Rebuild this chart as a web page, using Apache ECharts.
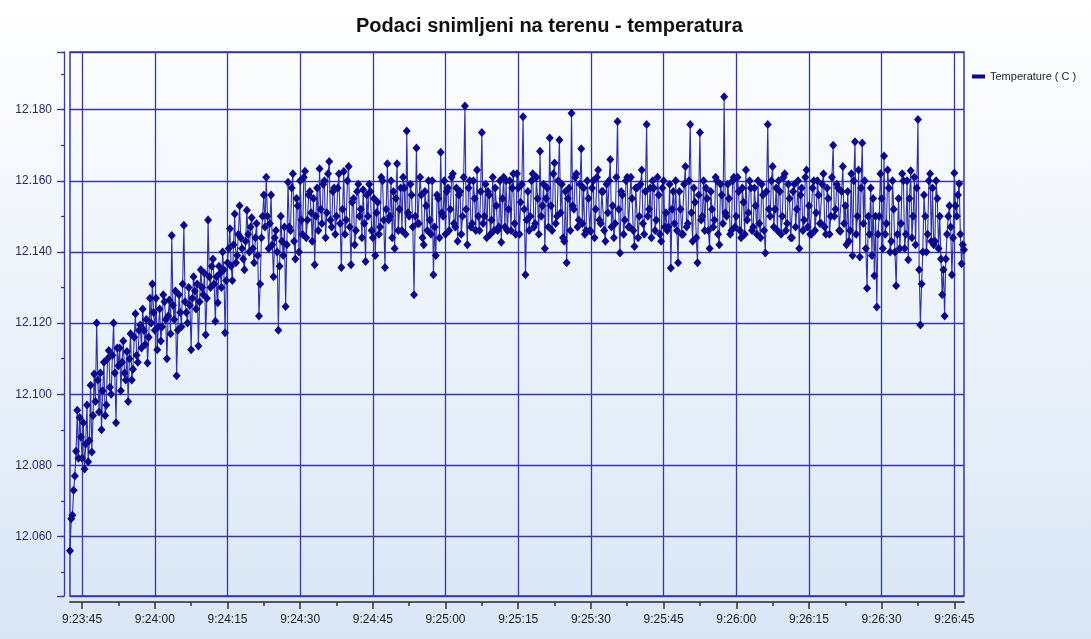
<!DOCTYPE html>
<html>
<head>
<meta charset="utf-8">
<title>Podaci snimljeni na terenu - temperatura</title>
<script src="https://cdn.jsdelivr.net/npm/echarts@6/dist/echarts.min.js"></script>
<style>
  html, body { margin: 0; padding: 0; }
  body {
    width: 1091px; height: 639px;
    background: linear-gradient(to bottom, #ffffff 0%, #f2f6fc 35%, #d9e6f6 100%);
  }
  #chart { width: 1091px; height: 639px; }
</style>
</head>
<body>
<div id="chart"></div>
<script>
// sampling of the logger: first sample and step (seconds)
const startTime = '9:23:42.5';
const stepSeconds = 0.25;

const timeTickLabels = ['9:23:45', '9:24:00', '9:24:15', '9:24:30', '9:24:45', '9:25:00', '9:25:15',
  '9:25:30', '9:25:45', '9:26:00', '9:26:15', '9:26:30', '9:26:45'];
const yTickLabels = ['12.060', '12.080', '12.100', '12.120', '12.140', '12.160', '12.180'];

// temperature ( C ), one value per sample (20 samples = 5 s per row)
const temperature = [
  12.056, 12.065, 12.066, 12.073, 12.077, 12.084, 12.0955, 12.082, 12.0935, 12.088, 12.082, 12.092, 12.079, 12.086, 12.097, 12.081, 12.087, 12.1025, 12.0838, 12.094,
  12.1057, 12.098, 12.120, 12.104, 12.095, 12.106, 12.090, 12.101, 12.109, 12.094, 12.097, 12.110, 12.1123, 12.102, 12.100, 12.111, 12.120, 12.106, 12.092, 12.113,
  12.108, 12.113, 12.101, 12.109, 12.115, 12.106, 12.104, 12.112, 12.098, 12.110, 12.117, 12.104, 12.107, 12.116, 12.1226, 12.111, 12.109, 12.118, 12.1195, 12.113,
  12.124, 12.118, 12.114, 12.121, 12.1088, 12.116, 12.127, 12.120, 12.131, 12.123, 12.118, 12.127, 12.1125, 12.119, 12.124, 12.115, 12.119, 12.128, 12.126, 12.121,
  12.110, 12.122, 12.1265, 12.117, 12.1446, 12.125, 12.121, 12.129, 12.1052, 12.118, 12.128, 12.123, 12.119, 12.131, 12.1475, 12.126, 12.123, 12.120, 12.130, 12.125,
  12.1125, 12.127, 12.133, 12.129, 12.124, 12.131, 12.1136, 12.126, 12.135, 12.130, 12.128, 12.134, 12.1167, 12.127, 12.149, 12.133, 12.130, 12.136, 12.138, 12.131,
  12.1205, 12.133, 12.1257, 12.136, 12.134, 12.130, 12.140, 12.135, 12.1173, 12.132, 12.137, 12.141, 12.1465, 12.136, 12.132, 12.142, 12.1507, 12.137, 12.139, 12.145,
  12.153, 12.144, 12.141, 12.138, 12.135, 12.143, 12.1517, 12.145, 12.140, 12.147, 12.1496, 12.141, 12.137, 12.144, 12.148, 12.139, 12.122, 12.131, 12.144, 12.150,
  12.156, 12.147, 12.161, 12.150, 12.141, 12.148, 12.156, 12.142, 12.133, 12.144, 12.146, 12.140, 12.118, 12.136, 12.150, 12.143, 12.139, 12.147, 12.1247, 12.142,
  12.1596, 12.147, 12.146, 12.158, 12.162, 12.143, 12.138, 12.155, 12.153, 12.140, 12.160, 12.149, 12.145, 12.161, 12.1627, 12.144, 12.149, 12.156, 12.157, 12.151,
  12.143, 12.155, 12.1364, 12.150, 12.158, 12.146, 12.1634, 12.152, 12.148, 12.159, 12.160, 12.144, 12.151, 12.162, 12.1654, 12.149, 12.147, 12.157, 12.158, 12.145,
  12.150, 12.158, 12.162, 12.148, 12.1356, 12.152, 12.1626, 12.145, 12.149, 12.160, 12.164, 12.147, 12.1364, 12.154, 12.155, 12.142, 12.146, 12.157, 12.159, 12.150,
  12.152, 12.144, 12.1575, 12.148, 12.1373, 12.156, 12.150, 12.159, 12.157, 12.146, 12.144, 12.155, 12.139, 12.151, 12.154, 12.145, 12.147, 12.161, 12.160, 12.149,
  12.1356, 12.152, 12.1648, 12.149, 12.150, 12.160, 12.144, 12.157, 12.141, 12.155, 12.1648, 12.146, 12.152, 12.158, 12.146, 12.161, 12.158, 12.145, 12.174, 12.151,
  12.150, 12.159, 12.156, 12.147, 12.128, 12.150, 12.1692, 12.148, 12.148, 12.161, 12.156, 12.144, 12.142, 12.157, 12.153, 12.146, 12.160, 12.149, 12.145, 12.160,
  12.1336, 12.147, 12.139, 12.156, 12.155, 12.144, 12.168, 12.151, 12.150, 12.160, 12.145, 12.157, 12.158, 12.146, 12.152, 12.161, 12.162, 12.148, 12.147, 12.158,
  12.143, 12.156, 12.157, 12.145, 12.150, 12.161, 12.181, 12.152, 12.142, 12.158, 12.160, 12.147, 12.148, 12.160, 12.155, 12.146, 12.163, 12.150, 12.146, 12.157,
  12.1736, 12.148, 12.150, 12.159, 12.144, 12.157, 12.156, 12.145, 12.149, 12.161, 12.146, 12.158, 12.153, 12.146, 12.147, 12.160, 12.1427, 12.155, 12.161, 12.147,
  12.160, 12.146, 12.152, 12.160, 12.146, 12.158, 12.162, 12.148, 12.145, 12.162, 12.158, 12.145, 12.154, 12.159, 12.178, 12.152, 12.1336, 12.149, 12.157, 12.146,
  12.150, 12.160, 12.162, 12.147, 12.148, 12.161, 12.155, 12.145, 12.1683, 12.150, 12.153, 12.159, 12.141, 12.155, 12.158, 12.147, 12.172, 12.153, 12.146, 12.162,
  12.165, 12.148, 12.150, 12.160, 12.1715, 12.151, 12.159, 12.144, 12.143, 12.157, 12.137, 12.155, 12.158, 12.146, 12.179, 12.153, 12.152, 12.161, 12.162, 12.147,
  12.149, 12.159, 12.169, 12.148, 12.158, 12.145, 12.146, 12.160, 12.155, 12.146, 12.1458, 12.158, 12.160, 12.144, 12.152, 12.161, 12.163, 12.149, 12.148, 12.157,
  12.157, 12.146, 12.143, 12.159, 12.151, 12.160, 12.166, 12.147, 12.153, 12.144, 12.148, 12.161, 12.1767, 12.152, 12.1397, 12.157, 12.156, 12.145, 12.149, 12.160,
  12.161, 12.147, 12.147, 12.161, 12.155, 12.146, 12.1415, 12.158, 12.158, 12.144, 12.150, 12.159, 12.163, 12.148, 12.145, 12.157, 12.1758, 12.150, 12.152, 12.158,
  12.144, 12.160, 12.158, 12.146, 12.149, 12.161, 12.156, 12.145, 12.143, 12.158, 12.160, 12.147, 12.151, 12.146, 12.147, 12.159, 12.1355, 12.152, 12.157, 12.148,
  12.160, 12.146, 12.137, 12.157, 12.152, 12.145, 12.145, 12.159, 12.164, 12.147, 12.148, 12.160, 12.1758, 12.151, 12.143, 12.158, 12.154, 12.144, 12.137, 12.156,
  12.1736, 12.149, 12.150, 12.160, 12.146, 12.158, 12.155, 12.146, 12.141, 12.157, 12.152, 12.147, 12.149, 12.161, 12.160, 12.145, 12.142, 12.159, 12.156, 12.148,
  12.1836, 12.151, 12.150, 12.159, 12.155, 12.145, 12.146, 12.160, 12.161, 12.147, 12.150, 12.161, 12.157, 12.146, 12.144, 12.158, 12.154, 12.145, 12.163, 12.149,
  12.151, 12.160, 12.158, 12.146, 12.147, 12.158, 12.153, 12.145, 12.160, 12.148, 12.144, 12.159, 12.156, 12.146, 12.1397, 12.157, 12.1758, 12.152, 12.150, 12.160,
  12.164, 12.147, 12.152, 12.158, 12.146, 12.160, 12.157, 12.145, 12.150, 12.161, 12.162, 12.146, 12.148, 12.159, 12.155, 12.144, 12.144, 12.157, 12.159, 12.147,
  12.152, 12.160, 12.141, 12.156, 12.158, 12.146, 12.149, 12.161, 12.163, 12.147, 12.153, 12.145, 12.145, 12.158, 12.160, 12.146, 12.151, 12.160, 12.156, 12.148,
  12.148, 12.159, 12.162, 12.147, 12.145, 12.158, 12.155, 12.145, 12.150, 12.161, 12.170, 12.150, 12.152, 12.159, 12.158, 12.146, 12.1458, 12.157, 12.164, 12.148,
  12.153, 12.142, 12.157, 12.143, 12.146, 12.162, 12.139, 12.160, 12.171, 12.145, 12.150, 12.163, 12.1386, 12.158, 12.1706, 12.148, 12.160, 12.141, 12.1298, 12.150,
  12.145, 12.158, 12.139, 12.155, 12.1333, 12.150, 12.1245, 12.145, 12.150, 12.162, 12.155, 12.141, 12.167, 12.145, 12.148, 12.163, 12.158, 12.140, 12.143, 12.160,
  12.152, 12.140, 12.1305, 12.145, 12.155, 12.141, 12.148, 12.162, 12.160, 12.141, 12.145, 12.160, 12.1378, 12.155, 12.1628, 12.144, 12.150, 12.161, 12.142, 12.158,
  12.1772, 12.135, 12.1195, 12.131, 12.140, 12.156, 12.150, 12.140, 12.145, 12.160, 12.162, 12.143, 12.158, 12.142, 12.143, 12.160, 12.155, 12.141, 12.150, 12.138,
  12.128, 12.135, 12.122, 12.138, 12.145, 12.150, 12.153, 12.147, 12.1336, 12.144, 12.1622, 12.153, 12.150, 12.156, 12.1592, 12.145, 12.1367, 12.142, 12.1406
];

function toSeconds(str) {
  const p = str.split(':');
  return (+p[0]) * 3600 + (+p[1]) * 60 + parseFloat(p[2]);
}
function formatTime(sec) {
  const h = Math.floor(sec / 3600);
  const m = Math.floor((sec - h * 3600) / 60);
  const s = sec - h * 3600 - m * 60;
  const whole = Math.floor(s + 1e-9);
  let str = h + ':' + String(m).padStart(2, '0') + ':' + String(whole).padStart(2, '0');
  if (s - whole > 1e-6) str += (s - whole).toFixed(2).slice(1);
  return str;
}

const t0 = toSeconds(startTime);
const sampleTimes = temperature.map((v, i) => formatTime(t0 + i * stepSeconds));

const isMajor = (idx, val) => timeTickLabels.indexOf(val) >= 0;
const isMinor = (idx, val) => {
  const q = toSeconds(val) / 7.5;
  return Math.abs(q - Math.round(q)) < 1e-6;
};

const gridBlue = '#3535b0';
const myChart = echarts.init(document.getElementById('chart'));

const option = {
  animation: false,
  backgroundColor: 'transparent',
  textStyle: { fontFamily: 'Liberation Sans, Arial, sans-serif' },
  title: {
    text: 'Podaci snimljeni na terenu - temperatura',
    left: 356,
    top: 16,
    padding: 0,
    textStyle: { fontSize: 20, fontWeight: 'bold', color: '#111', fontFamily: 'Liberation Sans, Arial, sans-serif' }
  },
  legend: {
    data: ['Temperature ( C )'],
    left: 972,
    top: 71,
    padding: 0,
    icon: 'rect',
    itemWidth: 13,
    itemHeight: 4,
    textStyle: { fontSize: 11, color: '#222' }
  },
  grid: {
    left: 70,
    right: 127,
    top: 52,
    bottom: 43,
    show: true,
    borderColor: gridBlue,
    borderWidth: 1.5,
    backgroundColor: 'transparent'
  },
  xAxis: [{
    type: 'category',
    data: sampleTimes,
    boundaryGap: false,
    offset: 6,
    axisLine: { lineStyle: { color: '#555', width: 2 } },
    axisTick: { interval: isMajor, length: 7, lineStyle: { color: '#333', width: 1.5 } },
    axisLabel: { interval: isMajor, margin: 12, fontSize: 12, color: '#222' },
    splitLine: { show: true, interval: isMajor, lineStyle: { color: gridBlue, width: 1.3 } }
  }, {
    type: 'category',
    data: sampleTimes,
    boundaryGap: false,
    position: 'bottom',
    offset: 6,
    axisLine: { show: false },
    axisTick: { interval: isMinor, length: 4, lineStyle: { color: '#333', width: 1.5 } },
    axisLabel: { show: false },
    splitLine: { show: false }
  }],
  yAxis: [{
    type: 'value',
    min: 12.0433,
    max: 12.1962,
    splitNumber: 7,
    offset: 6,
    axisLine: { show: true, lineStyle: { color: gridBlue, width: 1.3 } },
    axisTick: { show: true, length: 7, lineStyle: { color: gridBlue, width: 1.3 } },
    axisLabel: {
      margin: 12,
      fontSize: 12,
      color: '#2a2a66',
      formatter: v => {
        const s = v.toFixed(3);
        return yTickLabels.indexOf(s) >= 0 ? s : '';
      }
    },
    splitLine: { show: true, lineStyle: { color: gridBlue, width: 1.3 } }
  }, {
    type: 'value',
    min: 12.0433,
    max: 12.1962,
    splitNumber: 15,
    position: 'left',
    offset: 6,
    axisLine: { show: false },
    axisTick: { show: true, length: 3, lineStyle: { color: gridBlue, width: 1.3 } },
    axisLabel: { show: false },
    splitLine: { show: false }
  }],
  series: [{
    name: 'Temperature ( C )',
    type: 'line',
    xAxisIndex: 0,
    yAxisIndex: 0,
    data: temperature,
    showAllSymbol: true,
    symbol: 'diamond',
    symbolSize: [8, 9],
    itemStyle: { color: '#0a0a8a' },
    lineStyle: { color: '#3030a8', width: 1.1 },
    z: 3
  }]
};

option && myChart.setOption(option);
</script>
</body>
</html>
